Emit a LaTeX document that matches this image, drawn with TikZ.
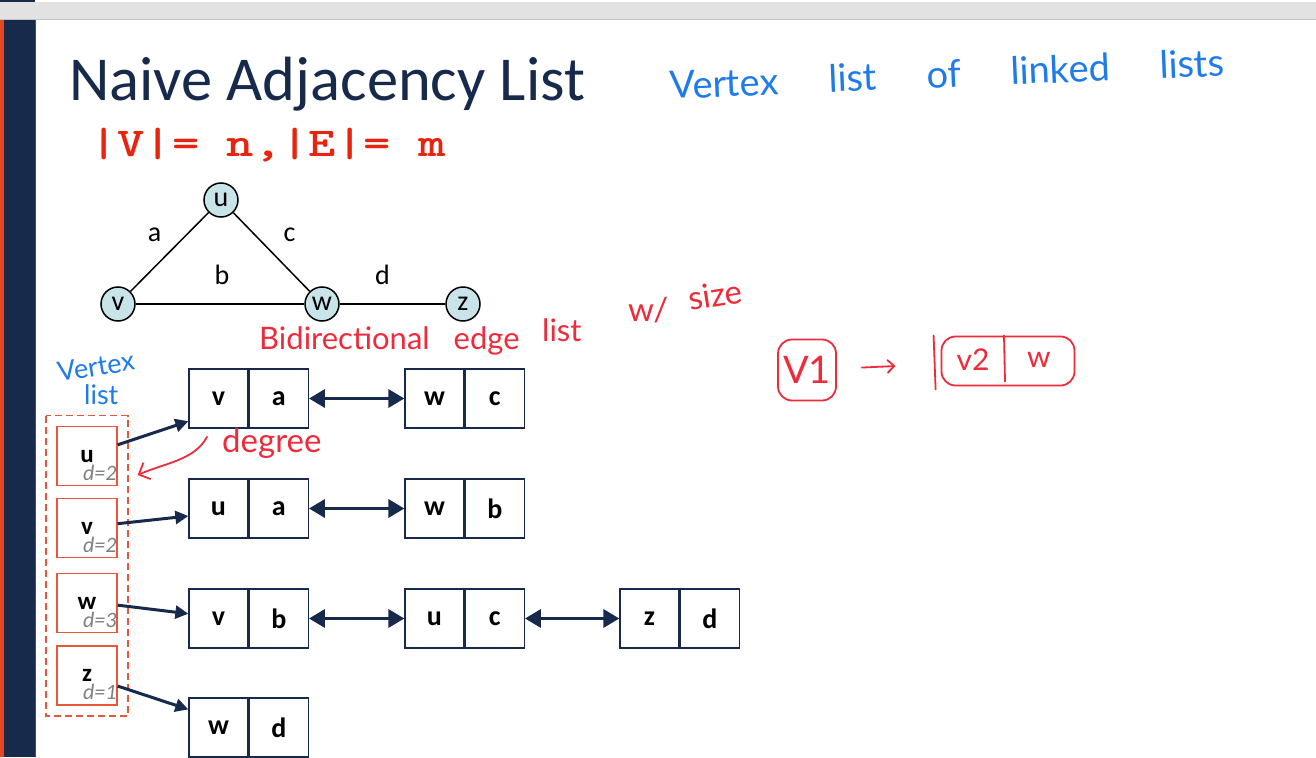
\documentclass[tikz,border=0pt]{standalone}
\usepackage{fontspec}
\setmainfont{Carlito}
\newfontfamily\penfont{Lato}
\usepackage{tikz}
\usetikzlibrary{arrows.meta,positioning,calc,fit}
\definecolor{colornavy}{HTML}{172A4B}
\definecolor{colorbar}{HTML}{E8461E}
\definecolor{colorbarline}{HTML}{3A5080}
\definecolor{colorband}{HTML}{E2E2E2}
\definecolor{colorbandline}{HTML}{C4C4C4}
\definecolor{colorsize}{HTML}{E8240E}
\definecolor{colorvbox}{HTML}{E8573A}
\definecolor{colornode}{HTML}{C8E4E8}
\definecolor{colorpen}{HTML}{EE2B3B}
\definecolor{colorblue}{HTML}{1F7BEA}
\tikzset{
  vertex/.style={circle, draw=black, line width=1.5pt, fill=colornode,
    minimum size=34pt, inner sep=0pt, font=\fontsize{28}{28}\selectfont},
  elabel/.style={font=\fontsize{28}{28}\selectfont, inner sep=0pt},
  cell/.style={draw=colornavy, line width=1.3pt, minimum width=59pt,
    minimum height=59pt, inner sep=0pt, font=\bfseries\fontsize{28}{28}\selectfont},
  vbox/.style={draw=colorvbox, line width=1.3pt, minimum width=60pt,
    minimum height=59pt, inner sep=0pt},
  vname/.style={anchor=base, inner sep=0pt, font=\bfseries\fontsize{25}{25}\selectfont},
  vdeg/.style={anchor=base east, inner sep=0pt, text=gray,
    font=\itshape\fontsize{22}{22}\selectfont},
  pennote/.style={inner sep=0pt, font=\penfont\fontsize{31}{31}\selectfont},
  edgegraph/.style={black, line width=1.5pt},
  edgelink/.style={colornavy, line width=3.5pt,
    {Triangle[length=16pt,width=18pt]}-{Triangle[length=16pt,width=18pt]}},
  edgehead/.style={colornavy, line width=3pt, -{Triangle[length=13pt,width=13pt]}},
  penline/.style={colorpen, line width=1.8pt, line cap=round, line join=round}
}

\begin{document}
\begin{tikzpicture}[x=1pt, y=-1pt, inner sep=1pt]
\useasboundingbox (0,0) rectangle (1316,757);

\fill[white] (0,0) rectangle (1316,757);
\fill[colorband] (0,2) rectangle (1316,20);
\draw[colorbandline, line width=1pt] (0,20) -- (1316,20);
\fill[colornavy] (0,0) rectangle (35,2);
\fill[colorbar] (0,20) rectangle (4,757);
\fill[colornavy] (4,20) rectangle (35,757);
\draw[colorbarline, line width=1pt] (35.5,20) -- (35.5,757);

\node[anchor=base west, inner sep=0pt, text=colornavy,
  font=\fontsize{62.5}{62.5}\selectfont] (title) at (69,101) {Naive Adjacency List};

\node[anchor=base west, inner sep=0pt, text=colorsize, xscale=1.27,
  font=\ttfamily\bfseries\fontsize{41}{41}\selectfont] (size) at (90,156)
{|V|= n,|E|= m};

\node[vertex] (u) at (221,200) {u};
\node[vertex] (v) at (118,304) {v};
\node[vertex] (w) at (322,304) {w};
\node[vertex] (z) at (463,304) {z};

\draw[edgegraph] (u) -- node[elabel, xshift=-15pt, yshift=17pt] {a} (v);
\draw[edgegraph] (u) -- node[elabel, xshift=18pt, yshift=17pt] {c} (w);
\draw[edgegraph] (v) -- node[elabel, xshift=2pt, yshift=29pt] {b} (w);
\draw[edgegraph] (w) -- node[elabel, xshift=-10pt, yshift=29pt] {d} (z);

\node[vbox] (vu) at (87,456) {};
\node[vbox] (vv) at (87,528) {};
\node[vbox] (vw) at (87,603) {};
\node[vbox] (vz) at (87,675.5) {};

\node[vname] (lu) at ($(vu.center)+(0,6)$) {u};
\node[vdeg] (du) at ($(vu.east)+(-1,24)$) {d=2};
\node[vname] (lv) at ($(vv.center)+(0,6)$) {v};
\node[vdeg] (dv) at ($(vv.east)+(-1,24)$) {d=2};
\node[vname] (lw) at ($(vw.center)+(0,6)$) {w};
\node[vdeg] (dw) at ($(vw.east)+(-1,24)$) {d=3};
\node[vname] (lz) at ($(vz.center)+(0,6)$) {z};
\node[vdeg] (dz) at ($(vz.east)+(-1,24)$) {d=1};

\node[inner sep=10pt, fit=(vu)(vz)] (vlist) {};
\draw[colorvbox, line width=1.6pt, dash pattern=on 7pt off 4pt]
  (vlist.north west) rectangle (vlist.south east);

\node[cell] (c11) at (218.5,398.5) {v};
\node[cell, right=0pt of c11] (c12) {a};
\node[cell] (c13) at (434.5,398.5) {w};
\node[cell, right=0pt of c13] (c14) {c};

\node[cell] (c21) at (218.5,508.5) {u};
\node[cell, right=0pt of c21] (c22) {a};
\node[cell] (c23) at (434.5,508.5) {w};
\node[cell, right=0pt of c23] (c24) {b};

\node[cell] (c31) at (218.5,618.5) {v};
\node[cell, right=0pt of c31] (c32) {b};
\node[cell] (c33) at (434.5,618.5) {u};
\node[cell, right=0pt of c33] (c34) {c};
\node[cell] (c35) at (649.5,618.5) {z};
\node[cell, right=0pt of c35] (c36) {d};

\node[cell] (c41) at (218.5,727.5) {w};
\node[cell, right=0pt of c41] (c42) {d};

\draw[edgelink] (c12.east) -- (c13.west);
\draw[edgelink] (c22.east) -- (c23.west);
\draw[edgelink] (c32.east) -- (c33.west);
\draw[edgelink] (c34.east) -- (c35.west);

\draw[edgehead] (vu.20) -- (c11.217);
\draw[edgehead] (vv.8) -- (c21.194);
\draw[edgehead] (vw.-4) -- (c31.171);
\draw[edgehead] (vz.-19) -- (c41.149);

\node[pennote, anchor=base west, text=colorblue, rotate=2.4,
  font=\penfont\fontsize{38}{38}\selectfont] (vlnote) at (670,99)
{\spaceskip=50pt\relax Vertex list of linked lists};

\node[pennote, anchor=base west, text=colorblue, rotate=9,
  font=\penfont\fontsize{27}{27}\selectfont] (vnote) at (59,382) {Vertex};
\node[pennote, anchor=base west, text=colorblue,
  font=\penfont\fontsize{27}{27}\selectfont] (vnote2) at (84,404) {list};

\node[pennote, anchor=base west, text=colorpen] (bnote) at (259,349)
{\spaceskip=24pt\relax Bidirectional edge};
\node[pennote, anchor=base west, text=colorpen] (lnote) at (542,341) {list};
\node[pennote, anchor=base west, text=colorpen,
  font=\penfont\fontsize{33}{33}\selectfont] (wnote) at (628,321) {w/};
\node[pennote, anchor=base west, text=colorpen, rotate=9,
  font=\penfont\fontsize{33}{33}\selectfont] (snote) at (690,311) {size};

\node[pennote, anchor=base west, text=colorpen,
  font=\penfont\fontsize{33}{33}\selectfont] (dnote) at (222,452) {degree};

\draw[penline, -{Straight Barb[length=9pt,width=18pt]}] ($(dnote.west)+(-15,-6)$)
  .. controls (195,460) and (165,463) .. ($(vu.east)+(20,19)$);

\node[pennote, text=colorpen, draw=colorpen, line width=1.8pt,
  rounded corners=14pt, minimum width=58pt, minimum height=61pt,
  font=\penfont\fontsize{38}{38}\selectfont] (v1) at (807,370) {V1};

\node[draw=colorpen, line width=1.8pt, rounded corners=14pt,
  minimum width=133pt, minimum height=49pt] (hbox) at (1008,361) {};

\node[pennote, text=colorpen, font=\penfont\fontsize{30}{30}\selectfont]
  (hv2) at (973,360) {v2};
\node[pennote, text=colorpen, font=\penfont\fontsize{30}{30}\selectfont]
  (hw) at (1039,360) {w};

\draw[penline] ($(hbox.north west)+(-7,0)$) -- ($(hbox.south west)+(-5,3)$);
\draw[penline] ($(hbox.north)+(-4,0)$) -- ($(hbox.south)+(-3,-5)$);

\draw[penline, -{Straight Barb[length=7pt,width=13pt]},
  shorten <=25pt, shorten >=45pt] (v1) -- (hbox);
\end{tikzpicture}
\end{document}
